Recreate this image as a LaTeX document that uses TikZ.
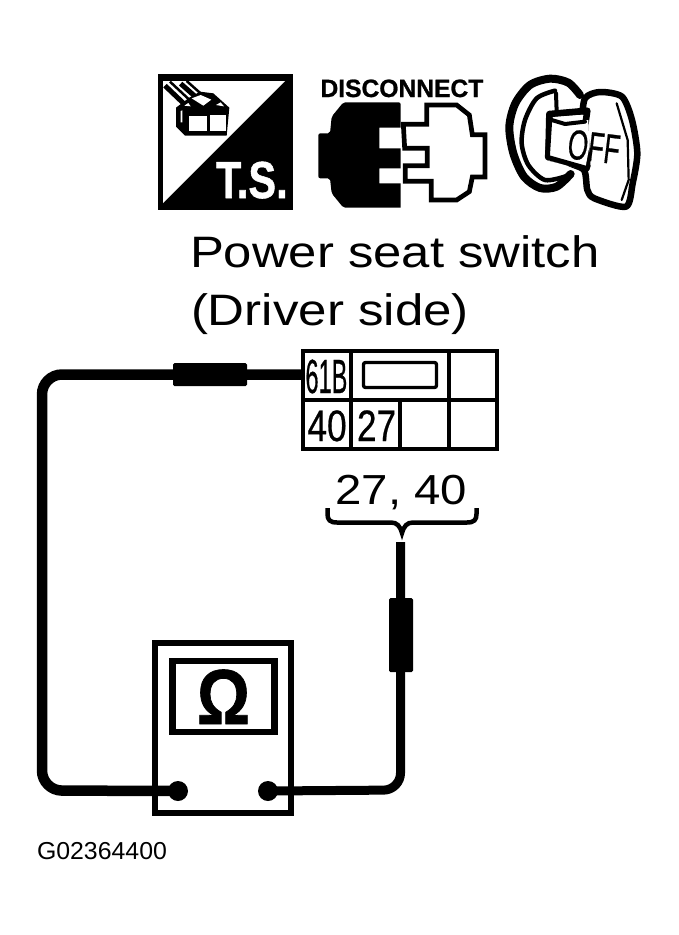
\documentclass[tikz,border=0pt]{standalone}
\usepackage{fontspec}
\setmainfont{Liberation Sans}
\newfontfamily\semib[FakeBold=.6]{Liberation Sans}
\newfontfamily\xbold[UprightFont=* Bold,FakeBold=1]{Liberation Sans}
\newcommand{\fpx}[1]{\fontsize{#1pt}{#1pt}\selectfont}
\tikzset{
  lbl/.style={inner sep=0pt,outer sep=0pt,anchor=base west,text=black,transform shape},
  bigwire/.style={draw=black,line width=10.5pt,rounded corners=20pt},
  thinwire/.style={draw=black,line width=9pt,rounded corners=17pt},
  sleeve/.style={fill=black,inner sep=0pt,outer sep=0pt,rounded corners=1.5pt},
  dotnode/.style={circle,fill=black,inner sep=0pt,outer sep=0pt,minimum size=20pt},
  grid/.style={draw=black,line width=4pt},
  keyline/.style={draw=black,line width=6.5pt,line join=round,line cap=round},
}
\begin{document}
\begin{tikzpicture}[x=1pt,y=-1pt]
\useasboundingbox (0,0) rectangle (679,935);
\fill[white] (0,0) rectangle (679,935);

% T.S. icon
\fill[black] (158,74) rectangle (293,210);
\fill[white] (163,81) -- (285,81) -- (163,203) -- cycle;
\begin{scope}[shift={(150,65)},x=.33333pt,y=-.33333pt]
  \fill[black] (78,128) -- (118,98) -- (150,80) -- (190,85) -- (238,128) -- (230,212) -- (105,212) -- (78,185) -- cycle;
  \draw[black,line width=5pt] (45,62) -- (108,122);
  \draw[black,line width=5pt] (92,56) -- (142,100);
  \draw[black,line width=2.5pt] (60,50) -- (122,108);
  \draw[black,line width=2.5pt] (110,48) -- (155,88);
  \fill[white] (125,100) -- (152,90) -- (184,104) -- (160,122) -- cycle;
  \fill[white] (118,152) rectangle (172,198);
  \fill[white] (181,150) rectangle (228,198);
  \fill[white] (198,120) -- (212,112) -- (222,124) -- cycle;
  \fill[white] (103,122) -- (115,114) -- (122,124) -- cycle;
  \fill[white] (92,138) -- (97,136) -- (97,172) -- (92,172) -- cycle;
\end{scope}
\node[lbl,text=white,xscale=.8,font=\fpx{52}\xbold] (tstext) at (216,198) {T.S.};

% Disconnect icon
\node[lbl,xscale=.985,font=\fpx{25}\xbold] (disc) at (320.5,97) {DISCONNECT};
\begin{scope}[shift={(310,65)},x=.33333pt,y=-.33333pt]
  \fill[black,rounded corners=2pt] (25,205) -- (60,205) -- (65,155) -- (100,112) -- (272,112) [sharp corners] -- (272,188) -- (208,188) -- (208,250) -- (272,250) -- (272,310) -- (208,310) -- (208,355) -- (272,355) -- (272,428) [rounded corners=2pt] -- (100,428) -- (65,385) -- (60,340) -- (25,340) -- cycle;
  \draw[black,line width=4.7pt,line join=miter] (280,178) -- (350,178) -- (350,120) -- (440,120) -- (478,150) -- (487,209) -- (525,209) -- (525,336) -- (487,336) -- (478,380) -- (440,405) -- (364,405) -- (364,349) -- (286,349) -- (286,302) -- (352,302) -- (352,250) -- (284,250) -- cycle;
\end{scope}

% Key icon
\begin{scope}[shift={(500,70)},x=.33333pt,y=-.33333pt]
  \draw[keyline,line width=8pt] plot[smooth] coordinates {(240,75) (205,38) (150,26) (90,45) (46,100) (28,170) (40,250) (72,320) (120,354) (170,350) (212,312)};
  \draw[keyline,line width=4.5pt] plot[smooth] coordinates {(165,62) (110,85) (75,150) (65,220) (85,285) (135,330) (200,318)};
  \draw[keyline,line width=4pt] (168,70) -- (170,125);
  \draw[keyline,fill=white] plot[smooth cycle,tension=.45] coordinates {(255,85) (300,66) (366,80) (396,150) (412,250) (398,340) (378,410) (283,385) (262,360) (252,300) (200,272) (190,200) (240,160)};
  \draw[keyline,fill=white,line join=round] (148,132) -- (262,122) -- (255,170) -- (262,290) -- (145,262) -- cycle;
  \fill[white] (140,270) -- (255,300) -- (268,230) -- (265,150) -- (190,160) -- (152,155) -- cycle;
  \draw[keyline,line width=5pt] (150,135) -- (142,262) -- (262,296);
  \draw[keyline,line width=5.5pt] (150,132) -- (255,125);
  \draw[keyline,line width=4pt] (155,150) -- (195,162) -- (255,155);
  \draw[keyline,line width=2.2pt] (350,100) -- (383,210) -- (386,330) -- (365,390);
\end{scope}
\node[lbl,anchor=center,rotate=-7,xscale=.62,font=\fpx{42}\semib] (offtext) at (594,147) {OFF};

% Title
\node[lbl,xscale=1.155,font=\fpx{44}] (title1) at (190,267) {Power seat switch};
\node[lbl,xscale=1.16,font=\fpx{44}] (title2) at (191,325) {(Driver side)};

% Connector table
\node[draw=black,line width=4pt,minimum width=194.5pt,minimum height=98pt,inner sep=0pt,outer sep=0pt] (table) at (400,400) {};
\draw[grid] (351.3,351) -- (351.3,449);
\draw[grid] (449.3,351) -- (449.3,449);
\draw[grid] (table.west) -- (table.east);
\draw[grid] (400,400) -- (400,449);
\node[draw=black,line width=3.3pt,rounded corners=2pt,minimum width=73pt,minimum height=25pt,inner sep=0pt] (slot) at (400,375) {};
\node[lbl,xscale=.49,font=\fpx{48}\semib] (c61) at (305.5,393) {61B};
\node[lbl,xscale=.8,font=\fpx{44}\semib] (c40) at (307.5,441) {40};
\node[lbl,xscale=.8,font=\fpx{44}\semib] (c27) at (357,441) {27};
\node[lbl,xscale=1.128,font=\fpx{42}] (lab) at (335.5,504) {27, 40};

% Brace
\coordinate (bracetip) at (402,533);
\draw[black,line width=4.5pt,line cap=butt] (327.5,508) -- (327.5,514) .. controls (327.5,520) and (330,522.5) .. (337,522.5) -- (391,522.5) .. controls (397,522.5) and (400,526) .. (bracetip) .. controls (404,526) and (407,522.5) .. (413,522.5) -- (467,522.5) .. controls (474,522.5) and (476.5,520) .. (476.5,514) -- (476.5,508);

% Meter
\node[draw=black,fill=white,line width=6pt,minimum width=136pt,minimum height=170pt,inner sep=0pt,outer sep=0pt] (meter) at (223,728) {};
\node[draw=black,line width=6.5pt,minimum width=102pt,minimum height=71pt,inner sep=0pt,outer sep=0pt] (screen) at (223.5,696.5) {};
\node[lbl,anchor=base,xscale=.85,font=\fpx{78}\xbold] (omega) at (223.5,724) {Ω};
\node[dotnode] (dl) at (178,791) {};
\node[dotnode] (dr) at (268,791) {};

% Wires
\coordinate (pin) at (304,374.5);
\coordinate (probe) at (400.5,542);
\draw[bigwire] (dl.center) -- (42,790.5) -- (42,374.5) -- (pin);
\draw[thinwire] (dr.center) -- (400.5,790) -- (probe);
\node[sleeve,minimum width=74pt,minimum height=23pt] (sl) at (210,374.5) {};
\node[sleeve,minimum width=24pt,minimum height=74pt] (sr) at (401,635) {};

% Code
\node[lbl,xscale=1.015,font=\fpx{24.5}] (code) at (37,859) {G02364400};
\end{tikzpicture}
\end{document}
